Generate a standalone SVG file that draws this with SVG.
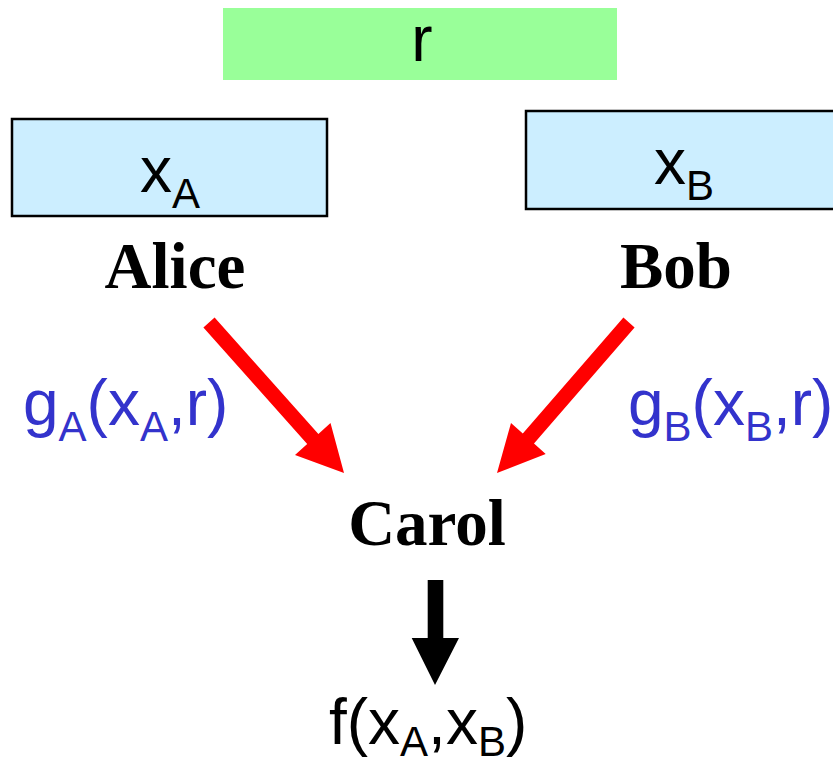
<svg xmlns="http://www.w3.org/2000/svg" width="833" height="767" viewBox="0 0 833 767">
<style>
.sans{font-family:"Liberation Sans",Arial,sans-serif;font-size:64px;fill:#000}
.sub{font-size:42px}
.blue{fill:#3333cc}
.name{font-family:"Liberation Serif","Times New Roman",serif;font-weight:bold;font-size:65px;fill:#000;text-anchor:middle}
.box{fill:#cceeff;stroke:#000;stroke-width:2.5}
</style>
<rect width="833" height="767" fill="#fff"/>
<g id="r">
<rect x="223" y="8" width="394" height="72" fill="#99ff99"/>
<text class="sans" x="422" y="61" text-anchor="middle">r</text>
</g>
<g id="alice">
<rect class="box" x="12" y="119" width="315" height="97"/>
<text class="sans" x="140" y="192">x<tspan class="sub" dy="16">A</tspan></text>
<text class="name" x="175" y="288">Alice</text>
</g>
<g id="bob">
<rect class="box" x="526" y="111" width="310" height="98"/>
<text class="sans" x="654" y="184">x<tspan class="sub" dy="16">B</tspan></text>
<text class="name" x="676" y="288">Bob</text>
</g>
<g id="carol">
<text class="name" x="427" y="545">Carol</text>
</g>
<g id="result">
<text class="sans" x="329" y="744">f(x<tspan class="sub" dy="12">A</tspan><tspan dy="-12">,x</tspan><tspan class="sub" dy="12">B</tspan><tspan dy="-12">)</tspan></text>
</g>
<g id="connectors">
<polygon fill="#ff0000" points="214.6,317.5 318.4,434 330.5,423 344,473 295,455 307.2,444 203.4,327.5"/>
<polygon fill="#ff0000" points="623.4,317.5 522.8,433.5 511,423 497,473 545.7,454 534,443.5 634.6,327.5"/>
<polygon fill="#000" points="427.7,580 443.3,580 443.3,638 459,638 435,685 411.7,638 427.7,638"/>
<text class="sans blue" x="23" y="425">g<tspan class="sub" dy="16">A</tspan><tspan dy="-16">(x</tspan><tspan class="sub" dy="16">A</tspan><tspan dy="-16">,r)</tspan></text>
<text class="sans blue" x="628" y="425">g<tspan class="sub" dy="16">B</tspan><tspan dy="-16">(x</tspan><tspan class="sub" dy="16">B</tspan><tspan dy="-16">,r)</tspan></text>
</g>
</svg>
